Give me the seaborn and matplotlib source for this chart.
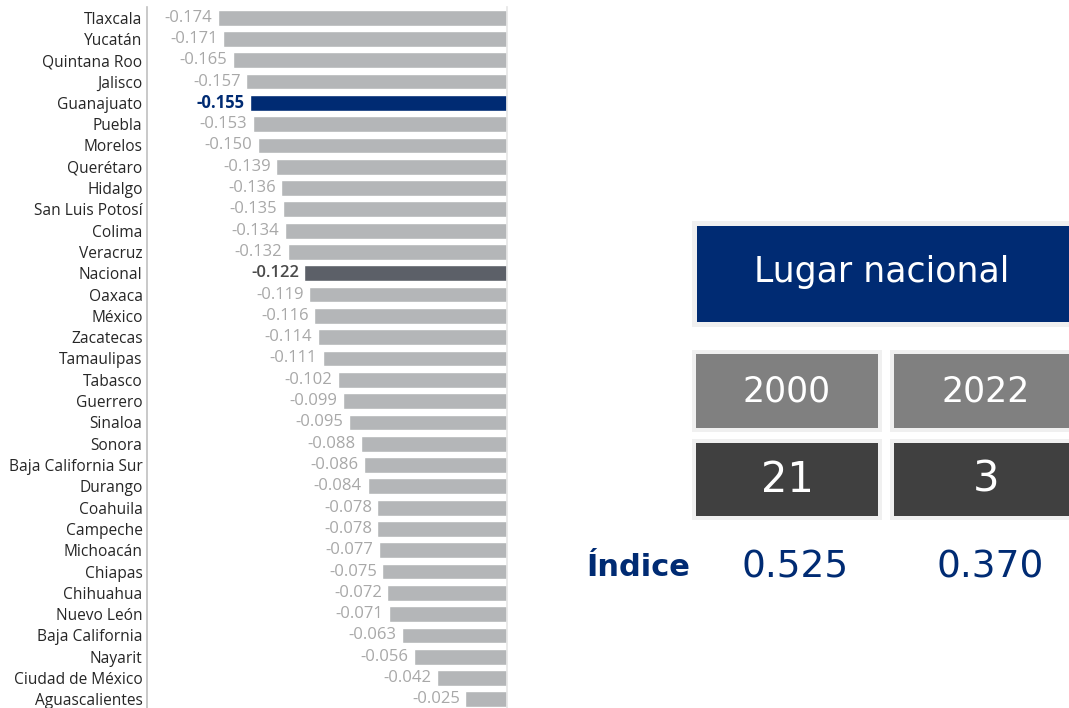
import matplotlib
matplotlib.use("Agg")
import matplotlib.pyplot as plt
import seaborn as sns
import pandas as pd
from matplotlib.patches import Rectangle

states = ["Tlaxcala", "Yucatán", "Quintana Roo", "Jalisco", "Guanajuato", "Puebla", "Morelos",
          "Querétaro", "Hidalgo", "San Luis Potosí", "Colima", "Veracruz", "Nacional", "Oaxaca",
          "México", "Zacatecas", "Tamaulipas", "Tabasco", "Guerrero", "Sinaloa", "Sonora",
          "Baja California Sur", "Durango", "Coahuila", "Campeche", "Michoacán", "Chiapas",
          "Chihuahua", "Nuevo León", "Baja California", "Nayarit", "Ciudad de México",
          "Aguascalientes"]
values = [-0.174, -0.171, -0.165, -0.157, -0.155, -0.153, -0.150, -0.139, -0.136, -0.135,
          -0.134, -0.132, -0.122, -0.119, -0.116, -0.114, -0.111, -0.102, -0.099, -0.095,
          -0.088, -0.086, -0.084, -0.078, -0.078, -0.077, -0.075, -0.072, -0.071, -0.063,
          -0.056, -0.042, -0.025]
highlight_state = "Guanajuato"
national_label = "Nacional"

box_title = "Lugar nacional"
years = ["2000", "2022"]
ranks = ["21", "3"]
index_label = "Índice"
index_values = ["0.525", "0.370"]

NAVY = "#002b73"
GRAY = "#b4b6b8"
DARK = "#5c6068"

sns.set_theme(style="white")
plt.rcParams["font.family"] = ["Open Sans", "DejaVu Sans"]

df = pd.DataFrame({"estado": states, "valor": values})
palette = {s: (NAVY if s == highlight_state else DARK if s == national_label else GRAY) for s in states}

fig = plt.figure(figsize=(10.69, 7.08), dpi=100)
fig.patch.set_facecolor("white")
ax = fig.add_axes([146.7 / 1069, -2.0 / 708, (507 - 146.7) / 1069, 703.0 / 708])

sns.barplot(data=df, x="valor", y="estado", hue="estado", palette=palette, legend=False,
            orient="h", width=0.74, saturation=1, ax=ax)

ax.set_xlim(-0.217, 0)
ax.set_ylim(len(states) - 0.5, -0.5)
ax.set_xlabel("")
ax.set_ylabel("")
ax.set_xticks([])
ax.tick_params(axis="y", length=0, pad=3, labelsize=11.2, labelcolor="#262626")
ax.spines["top"].set_visible(False)
ax.spines["left"].set_color("#c0c0c0")
ax.spines["left"].set_linewidth(1.2)
ax.spines["right"].set_color("#e6e6e6")
ax.spines["bottom"].set_color("#e6e6e6")

for i, (s, v) in enumerate(zip(states, values)):
    if s == highlight_state:
        col, w = NAVY, "bold"
    elif s == national_label:
        col, w = "#4a4a4a", "semibold"
    else:
        col, w = "#a8a8a8", "normal"
    ax.annotate(f"{v:.3f}", xy=(v, i), xytext=(-4, 0), textcoords="offset points",
                ha="right", va="center", fontsize=12, color=col, fontweight=w)

W, H = 1069.0, 708.0
RF = ["DejaVu Sans"]

def box(x0, y0, x1, y1, color, pad=5):
    fig.patches.append(Rectangle(((x0 - pad) / W, 1 - (y1 + pad) / H), (x1 - x0 + 2 * pad) / W,
                                 (y1 - y0 + 2 * pad) / H, transform=fig.transFigure,
                                 facecolor="#f0f0f0", edgecolor="none", zorder=1))
    fig.patches.append(Rectangle((x0 / W, 1 - y1 / H), (x1 - x0) / W, (y1 - y0) / H,
                                 transform=fig.transFigure, facecolor=color,
                                 edgecolor="none", zorder=2))

def ftext(x, y, s, **kw):
    fig.text(x / W, 1 - y / H, s, ha="center", va="center", zorder=3, family=RF, **kw)

box(697, 226, 1075, 322, NAVY)
ftext(882, 272, box_title, color="white", fontsize=25)

xs = [(696, 878), (894, 1075)]
for (x0, x1) in xs:
    box(x0, 354, x1, 428, "#808080", pad=4)
    box(x0, 443, x1, 516, "#404040", pad=4)
for yr, rk, cx in zip(years, ranks, [787, 986]):
    ftext(cx, 391, yr, color="white", fontsize=25)
    ftext(cx, 480, rk, color="white", fontsize=30)

ftext(638, 567, index_label, color=NAVY, fontsize=22, fontweight="bold")
for cx, iv in zip([795, 990], index_values):
    ftext(cx, 567, iv, color=NAVY, fontsize=27)

fig.savefig("out.png", dpi=100, facecolor="white")
